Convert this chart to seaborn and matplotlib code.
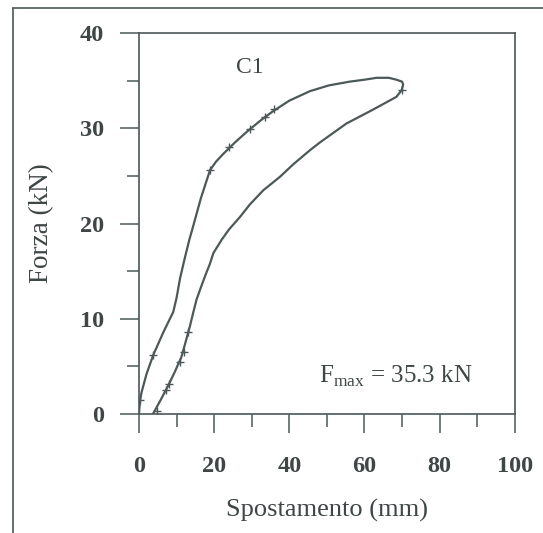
import matplotlib
matplotlib.use("Agg")
import matplotlib.pyplot as plt
from matplotlib.lines import Line2D
from matplotlib.ticker import MultipleLocator
import seaborn as sns
import pandas as pd

# ---- data ----
displacement = [0.0, 0.1, 0.3, 0.7, 2.0, 3.8, 6.5, 9.1, 10.0, 10.9, 12.2, 13.4, 14.4,
                16.5, 18.9, 20.5, 22.4, 25.5, 28.6, 32.6, 35.7, 40.0, 45.5, 50.5,
                56.1, 60.0, 63.2, 66.5, 68.5, 70.0, 70.3, 69.9,
                68.5, 62.0, 55.2, 48.1, 45.5, 41.0, 37.5, 33.1, 29.5, 26.9, 24.0,
                22.0, 19.8, 18.9, 17.5, 16.2, 15.3, 14.4, 13.6, 12.5, 11.3, 9.5,
                7.8, 5.8, 3.8, 3.1]
force = [0.0, 0.6, 1.5, 2.3, 4.2, 6.2, 8.6, 10.7, 12.2, 14.2, 16.4, 18.3, 19.7,
         22.7, 25.6, 26.5, 27.3, 28.5, 29.6, 30.9, 31.8, 32.9, 33.9, 34.5,
         34.9, 35.1, 35.3, 35.3, 35.1, 34.9, 34.6, 34.0,
         33.3, 31.9, 30.5, 28.5, 27.7, 26.2, 24.9, 23.5, 22.0, 20.7, 19.4,
         18.3, 16.9, 15.8, 14.4, 13.0, 12.0, 10.6, 9.3, 7.7, 6.0, 4.4,
         3.0, 1.5, 0.07, -0.6]

marker_x = [0.3, 3.8, 18.9, 24.0, 29.5, 33.5, 35.8, 69.9, 13.0, 12.0, 11.0, 8.0, 7.2, 4.8]
marker_y = [1.5, 6.2, 25.6, 28.0, 29.9, 31.2, 32.0, 34.0, 8.6, 6.5, 5.5, 3.2, 2.5, 0.3]

x_ticks = [0, 20, 40, 60, 80, 100]
y_ticks = [0, 10, 20, 30, 40]

sample_label = "C1"
fmax_label = r"F$_{\mathregular{max}}$ = 35.3 kN"
x_label = "Spostamento (mm)"
y_label = "Forza (kN)"

# ---- style ----
sns.set_theme(style="ticks")
plt.rcParams["font.family"] = ["Liberation Serif", "DejaVu Serif"]
plt.rcParams["mathtext.fontset"] = "custom"
plt.rcParams["mathtext.rm"] = "Liberation Serif"

line_col = "#4d5858"
text_col = "#3e4646"

df = pd.DataFrame({"x": displacement, "y": force, "order": range(len(force))})
mk = pd.DataFrame({"x": marker_x, "y": marker_y})

fig = plt.figure(figsize=(5.43, 5.33), dpi=100)
ax = fig.add_axes([0.256, 0.2233, 0.692, 0.7147])

sns.lineplot(data=df, x="x", y="y", sort=False, estimator=None, ax=ax,
             color=line_col, linewidth=1.6)
ax.plot(mk["x"], mk["y"], linestyle="none", marker="+", markersize=6,
        markeredgewidth=1.0, color=line_col)

ax.set_xlim(0, 100)
ax.set_ylim(0, 40)
ax.set_xticks(x_ticks)
ax.set_yticks(y_ticks)
ax.xaxis.set_minor_locator(MultipleLocator(10))
ax.yaxis.set_minor_locator(MultipleLocator(5))
ax.tick_params(which="major", direction="out", length=14, width=1.1, color=line_col)
ax.tick_params(which="minor", direction="out", length=9, width=1.1, color=line_col)
ax.tick_params(which="major", labelsize=17.5, labelcolor=text_col)
ax.tick_params(axis="x", which="major", pad=16)
ax.tick_params(axis="y", which="major", pad=11)
for lab in ax.get_xticklabels() + ax.get_yticklabels():
    lab.set_fontweight("bold")
for sp in ax.spines.values():
    sp.set_visible(True)
    sp.set_color(line_col)
    sp.set_linewidth(1.2)

ax.set_xlabel(x_label, fontsize=19, color=text_col, labelpad=16)
ax.set_ylabel(y_label, fontsize=19.5, color=text_col, labelpad=19)

ax.text(29.5, 36.4, sample_label, fontsize=17, color=text_col, ha="center", va="center")
ax.text(48.0, 3.3, fmax_label, fontsize=18, color=text_col, ha="left", va="baseline")

# outer frame (left and top edges visible in the scan)
fig.add_artist(Line2D([12.5 / 543, 12.5 / 543], [0, 1 - 8 / 533], transform=fig.transFigure,
                      color=line_col, linewidth=1.2))
fig.add_artist(Line2D([12.5 / 543, 1], [1 - 8 / 533, 1 - 8 / 533], transform=fig.transFigure,
                      color=line_col, linewidth=1.2))

fig.savefig("out.png", dpi=100, facecolor="white")
